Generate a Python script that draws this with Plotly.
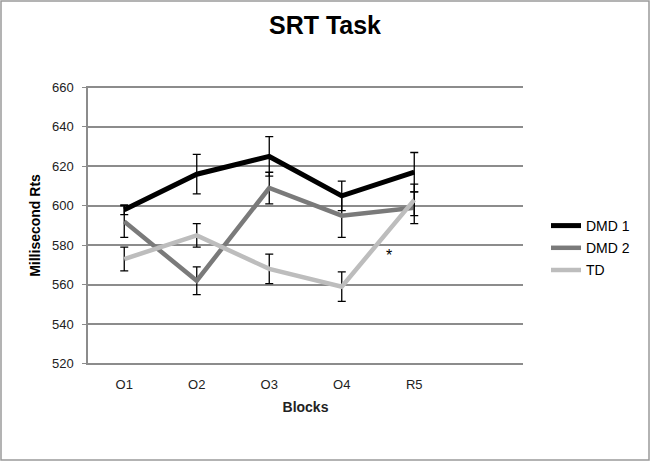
import plotly.graph_objects as go

# 블록별 평균 반응시간 (ms) 과 오차막대
blocks = ["O1", "O2", "O3", "O4", "R5"]
dmd1 = [598, 616, 625, 605, 617]
dmd1_err = [2.5, 10, 10, 7.5, 10]
dmd2 = [592, 562, 609, 595, 599]
dmd2_err = [8, 7, 8, 11, 8]
td = [573, 585, 568, 559, 603]
td_err = [6, 6, 7.5, 7.5, 8]
y_ticks = [520, 540, 560, 580, 600, 620, 640, 660]
star_x, star_y = 3.65, 575

FONT = "Liberation Sans, Arial, sans-serif"
W, H = 650, 461
L, R, T, B = 88, 127, 86, 96
pw, ph = W - L - R, H - T - B

xs = list(range(len(blocks)))
series = [
    ("DMD 1", dmd1, dmd1_err, "#000000", 5),
    ("DMD 2", dmd2, dmd2_err, "#7a7a7a", 4.5),
    ("TD", td, td_err, "#bdbdbd", 4.5),
]

fig = go.Figure()
for i, (name, ys, err, color, width) in enumerate(series):
    fig.add_trace(
        go.Scatter(
            x=xs, y=ys, name=name, mode="lines",
            line=dict(color=color, width=width),
            error_y=dict(type="data", array=err, visible=True, color="#000000", thickness=1.3, width=4),
            legendgroup=f"g{i}",
        )
    )

fig.add_annotation(
    x=star_x, y=star_y, text="*", showarrow=False,
    font=dict(family=FONT, size=16, color="#000000"),
)

# 바깥 테두리 (그림 전체)
fig.add_shape(
    type="rect", xref="paper", yref="paper",
    x0=(1 - L) / pw, x1=(W - 1 - L) / pw,
    y0=-(B - 1) / ph, y1=(H - 1 - B) / ph,
    line=dict(color="#9a9a9a", width=1.5), fillcolor="rgba(0,0,0,0)", layer="below",
)

fig.update_layout(
    width=W, height=H,
    margin=dict(l=L, r=R, t=T, b=B),
    paper_bgcolor="white", plot_bgcolor="white",
    title=dict(
        text="<b>SRT Task</b>", x=0.5, xanchor="center", y=1 - 25 / H, yanchor="middle",
        font=dict(family=FONT, size=25, color="#000000"),
    ),
    font=dict(family=FONT, color="#222222"),
    showlegend=True,
    legend=dict(
        x=(546 - L) / pw, y=(365 - 210) / ph, xanchor="left", yanchor="top",
        font=dict(family=FONT, size=14, color="#000000"),
        tracegroupgap=1, traceorder="grouped", bgcolor="rgba(0,0,0,0)",
    ),
)
fig.update_xaxes(
    range=[-0.5, 5.5], tickvals=xs, ticktext=blocks, showgrid=False, zeroline=False,
    showline=False, ticks="", ticklabelstandoff=10,
    tickfont=dict(family=FONT, size=13, color="#222222"),
    title=dict(text="<b>Blocks</b>", font=dict(family=FONT, size=14, color="#222222"), standoff=11),
)
# 범위를 살짝 넓혀 660/520 격자선이 잘리지 않게 함
fig.update_yaxes(
    range=[519.3, 660.7], tickvals=y_ticks, showgrid=True, gridcolor="#8c8c8c", gridwidth=1.5,
    zeroline=False, showline=True, linecolor="#8c8c8c", linewidth=1.5,
    ticks="outside", ticklen=4, tickcolor="#8c8c8c", ticklabelstandoff=6,
    tickfont=dict(family=FONT, size=13, color="#222222"),
    title=dict(text="<b>Millisecond Rts</b>", font=dict(family=FONT, size=14, color="#000000"), standoff=8),
)

fig.write_html(
    "out.html",
    config={"displayModeBar": False},
    post_script="document.body.style.margin='0';",
)
